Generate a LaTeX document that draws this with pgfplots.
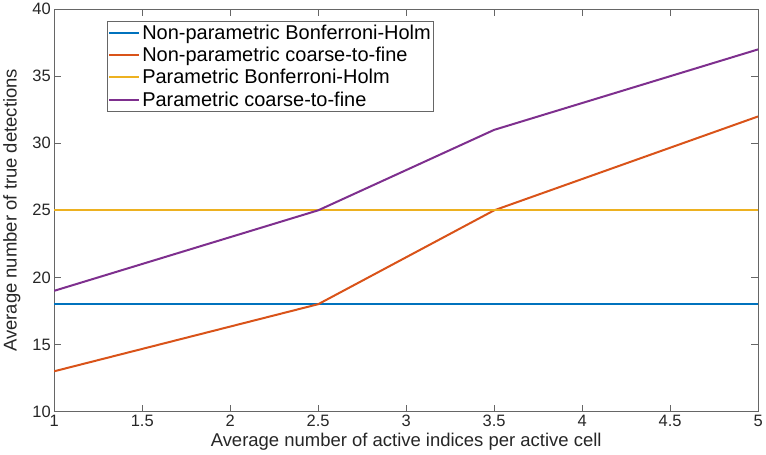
\documentclass[border=0pt]{standalone}
\usepackage{fontspec}
\setmainfont{Liberation Sans}
\usepackage{pgfplots}
\pgfplotsset{compat=1.18}

\definecolor{colA}{HTML}{0072BD}
\definecolor{colB}{HTML}{D95319}
\definecolor{colC}{HTML}{EDB120}
\definecolor{colD}{HTML}{7E2F8E}

\begin{document}
\begin{tikzpicture}
\begin{axis}[
  scale only axis,
  width=705pt, height=403pt,
  xmin=1, xmax=5, ymin=10, ymax=40,
  xtick={1,1.5,...,5},
  ytick={10,15,...,40},
  xticklabel style={/pgf/number format/fixed},
  tick align=inside,
  major tick length=7pt,
  axis line style={black!60, line width=0.7pt},
  tick style={black!60, line width=0.7pt},
  ticklabel style={font=\fontsize{16.5}{18}\selectfont, text=black!85},
  /pgf/number format/assume math mode=true,
  xlabel={Average number of active indices per active cell},
  ylabel={Average number of true detections},
  label style={font=\fontsize{18.5}{20}\selectfont, text=black!85},
  ylabel style={yshift=5pt},
  legend style={at={(rel axis cs:0.075,0.97)}, anchor=north west,
    font=\fontsize{20}{21}\selectfont, draw=black!60, line width=0.7pt,
    inner sep=1pt, row sep=2.5pt,
    cells={anchor=west}},
  legend image code/.code={\draw[#1, line width=2pt] (0,0) -- (30pt,0);},
]
\addplot[color=colA, line width=2pt] coordinates {(1,18) (2.5,18) (3.5,18) (5,18)};
\addlegendentry{Non-parametric Bonferroni-Holm}
\addplot[color=colB, line width=2pt] coordinates {(1,13) (2.5,18) (3.5,25) (5,32)};
\addlegendentry{Non-parametric coarse-to-fine}
\addplot[color=colC, line width=2pt] coordinates {(1,25) (2.5,25) (3.5,25) (5,25)};
\addlegendentry{Parametric Bonferroni-Holm}
\addplot[color=colD, line width=2pt] coordinates {(1,19) (2.5,25) (3.5,31) (5,37)};
\addlegendentry{Parametric coarse-to-fine}
\end{axis}
\end{tikzpicture}
\end{document}
